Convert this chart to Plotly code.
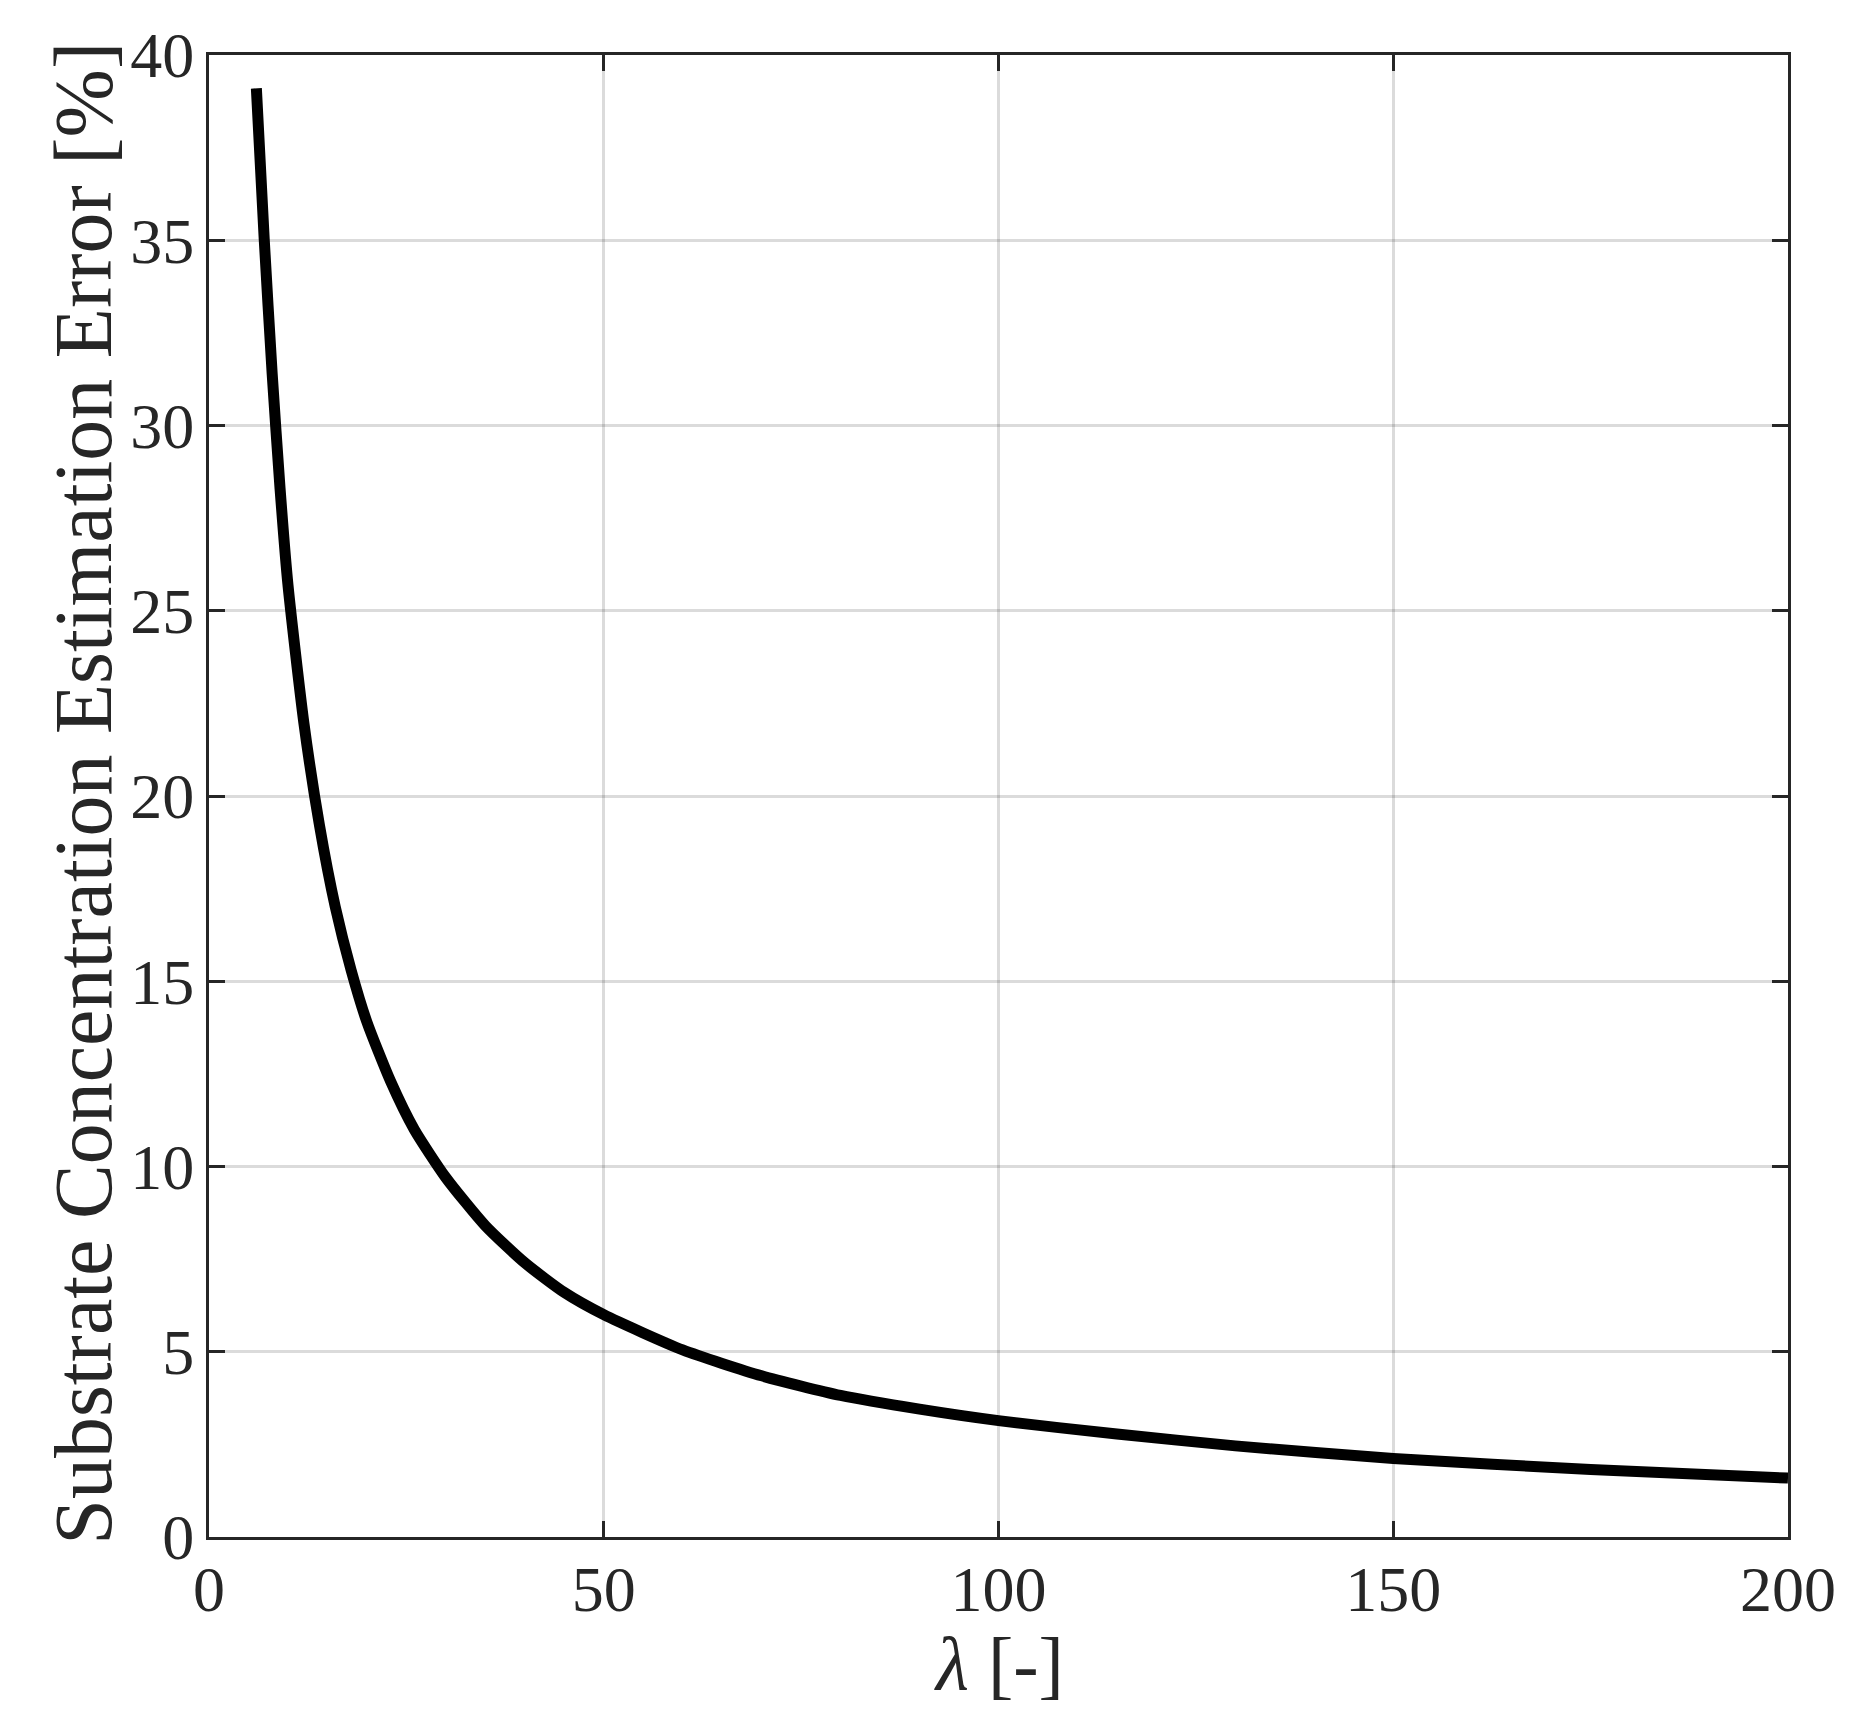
import plotly.graph_objects as go

# values
lam = [6, 7, 8, 9, 10, 12, 14, 16, 18, 20, 23, 26, 30, 35, 40, 45, 50,
       60, 70, 80, 90, 100, 115, 130, 150, 175, 200]
err = [39.1, 35.0, 31.4, 28.3, 25.7, 22.0, 19.2, 17.0, 15.3, 13.9, 12.3, 11.0,
       9.7, 8.4, 7.4, 6.6, 6.0, 5.05, 4.35, 3.82, 3.45, 3.14, 2.78, 2.46, 2.12, 1.82, 1.59]

x_ticks = [0, 50, 100, 150, 200]
y_ticks = [0, 5, 10, 15, 20, 25, 30, 35, 40]

font_name = "Liberation Serif"
axis_col = "#262626"

fig = go.Figure()
fig.add_trace(go.Scatter(x=lam, y=err, mode="lines",
                         line=dict(color="black", width=11, shape="spline", smoothing=0.6),
                         showlegend=False))

axis_style = dict(
    showline=True, linecolor=axis_col, linewidth=3, mirror="ticks",
    ticks="inside", ticklen=16, tickwidth=3, tickcolor=axis_col,
    showgrid=True, gridcolor="rgba(0,0,0,0.14)", gridwidth=3,
    zeroline=False,
    tickfont=dict(family=font_name, size=64, color=axis_col),
)

fig.update_xaxes(range=[0, 200], tickvals=x_ticks, ticklabelstandoff=-6, **axis_style)
fig.update_yaxes(range=[0, 40], tickvals=y_ticks, ticklabelstandoff=-1, **axis_style)

# axis titles placed as annotations
fig.add_annotation(text="<i>λ</i> [-]", xref="paper", yref="paper",
                   x=0.5, y=-0.086, xanchor="center", yanchor="middle",
                   showarrow=False,
                   font=dict(family=font_name, size=76, color=axis_col))
fig.add_annotation(text="Substrate Concentration Estimation Error [%]",
                   xref="paper", yref="paper", x=-0.08, y=0.502,
                   xanchor="center", yanchor="middle", textangle=-90,
                   showarrow=False,
                   font=dict(family=font_name, size=82, color=axis_col))

fig.update_layout(
    width=1850, height=1725,
    margin=dict(l=201, r=70, t=42, b=196),
    plot_bgcolor="white", paper_bgcolor="white",
)

fig.write_html("out.html")
